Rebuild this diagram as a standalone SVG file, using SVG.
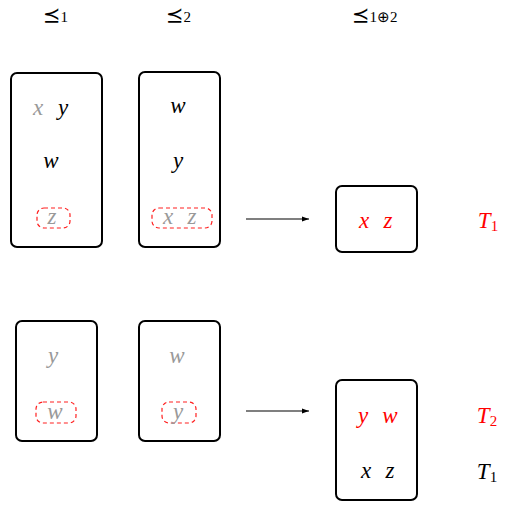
<svg xmlns="http://www.w3.org/2000/svg" width="511" height="506" viewBox="0 0 511 506">
<style>
.box{fill:none;stroke:#000;stroke-width:2}
.dash{fill:none;stroke:#ff2020;stroke-width:1.2;stroke-dasharray:4 3}
.m{font-family:"Liberation Serif","DejaVu Serif",serif;font-style:italic;font-size:23px;text-anchor:middle}
.g{fill:#999999}
.k{fill:#000}
.r{fill:#ff0000}
.h{font-family:"DejaVu Sans","DejaVu Serif",sans-serif;font-size:21px;fill:#000}
.sub{font-family:"Liberation Serif",serif;font-style:normal;font-size:15px}
.edge{stroke:#000;stroke-width:1.2;fill:none}
</style>
<defs>
<marker id="ah" markerWidth="8" markerHeight="6" refX="7" refY="3" orient="auto" markerUnits="userSpaceOnUse">
<path d="M0,0.5 L7,3 L0,5.5 Z" fill="#000"/>
</marker>
</defs>
<g id="headers">
<text class="h" x="43" y="22">⪯<tspan class="sub">1</tspan></text>
<text class="h" x="166" y="22">⪯<tspan class="sub">2</tspan></text>
<text class="h" x="352" y="22">⪯<tspan class="sub">1⊕2</tspan></text>
</g>
<g id="A1">
<rect class="box" x="11" y="73" width="91" height="174" rx="6"/>
<text class="m g" x="38" y="115">x</text>
<text class="m k" x="63" y="115">y</text>
<text class="m k" x="51" y="168">w</text>
<rect class="dash" x="37" y="208" width="33" height="20" rx="7"/>
<text class="m g" x="52" y="224">z</text>
</g>
<g id="A2">
<rect class="box" x="139" y="72" width="81" height="175" rx="6"/>
<text class="m k" x="178" y="113">w</text>
<text class="m k" x="178" y="168">y</text>
<rect class="dash" x="152" y="208" width="60" height="20" rx="7"/>
<text class="m g" x="168" y="224">x</text>
<text class="m g" x="192" y="224">z</text>
</g>
<g id="B1">
<rect class="box" x="336" y="186" width="81" height="66" rx="6"/>
<text class="m r" x="364" y="228">x</text>
<text class="m r" x="388" y="228">z</text>
</g>
<g id="T1a"><text class="m r" x="488" y="228" text-anchor="start">T<tspan class="sub" dy="3">1</tspan></text></g>
<g id="C1">
<rect class="box" x="16" y="321" width="81" height="120" rx="6"/>
<text class="m g" x="53" y="363">y</text>
<rect class="dash" x="36" y="402" width="40" height="21" rx="7"/>
<text class="m g" x="55" y="419">w</text>
</g>
<g id="C2">
<rect class="box" x="139" y="321" width="81" height="120" rx="6"/>
<text class="m g" x="177" y="363">w</text>
<rect class="dash" x="162" y="402" width="34" height="21" rx="7"/>
<text class="m g" x="178" y="419">y</text>
</g>
<g id="D">
<rect class="box" x="336" y="380" width="81" height="120" rx="6"/>
<text class="m r" x="363" y="423">y</text>
<text class="m r" x="390" y="423">w</text>
<text class="m k" x="366" y="478">x</text>
<text class="m k" x="390" y="478">z</text>
</g>
<g id="T2"><text class="m r" x="487" y="423" text-anchor="start">T<tspan class="sub" dy="3">2</tspan></text></g>
<g id="T1b"><text class="m k" x="487" y="479" text-anchor="start">T<tspan class="sub" dy="3">1</tspan></text></g>
<g id="connectors">
<line class="edge" x1="246" y1="219" x2="309" y2="219" marker-end="url(#ah)"/>
<line class="edge" x1="246" y1="411" x2="309" y2="411" marker-end="url(#ah)"/>
</g>
</svg>
